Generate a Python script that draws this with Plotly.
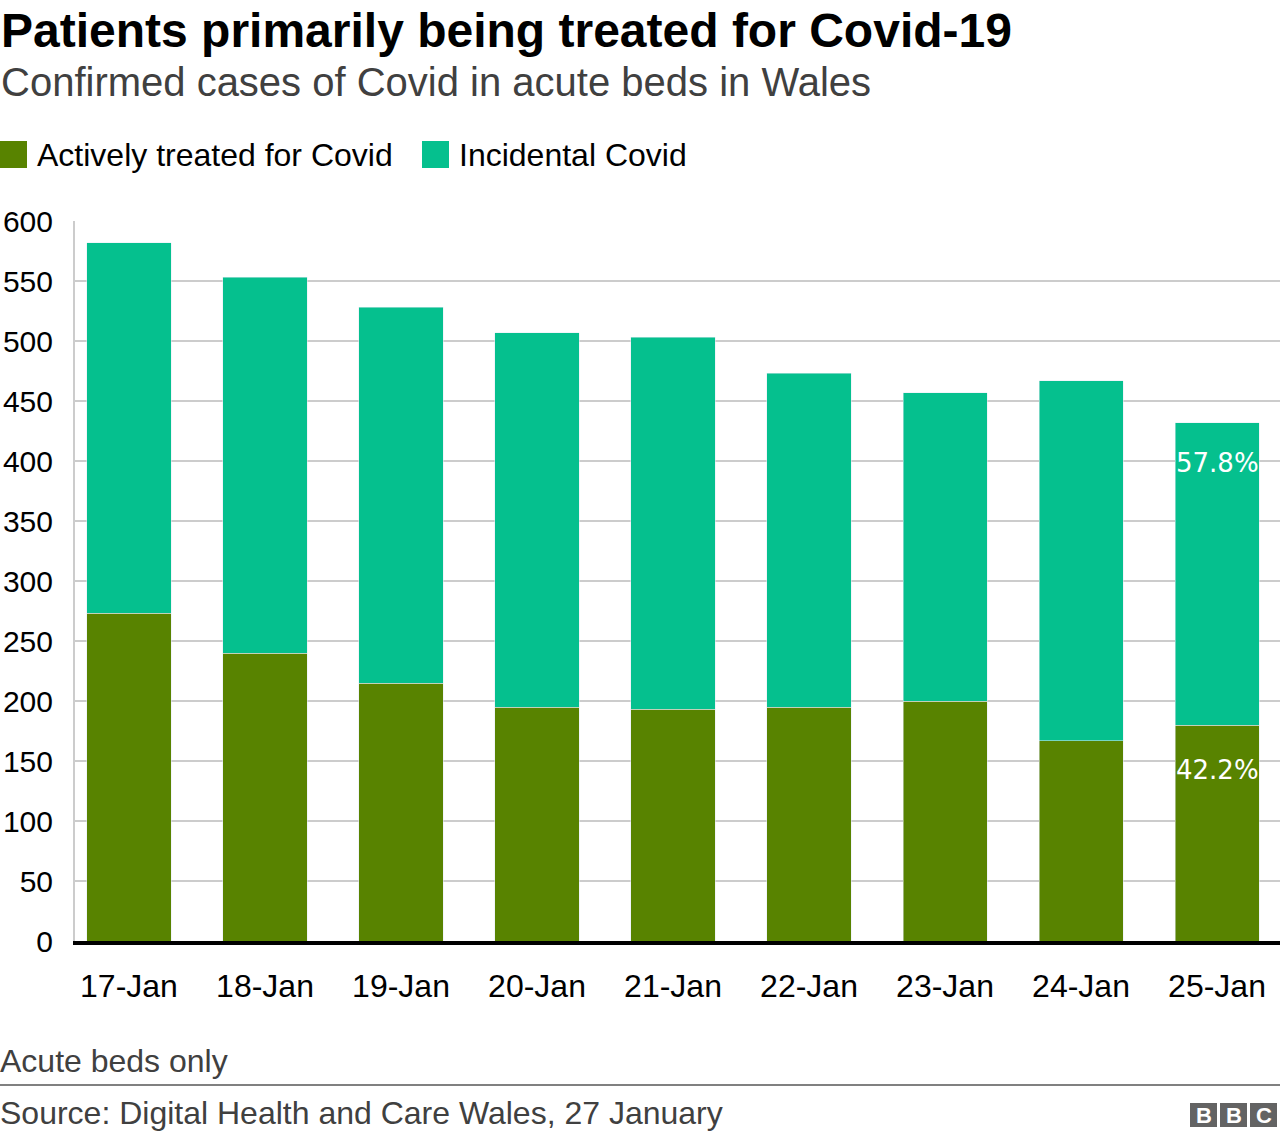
import plotly.graph_objects as go

dates = ["17-Jan", "18-Jan", "19-Jan", "20-Jan", "21-Jan", "22-Jan", "23-Jan", "24-Jan", "25-Jan"]
active = [273, 240, 215, 195, 193, 195, 200, 167, 180]
incidental = [309, 313, 313, 312, 310, 278, 257, 300, 252]
last_labels = ["42.2%", "57.8%"]
y_ticks = [0, 50, 100, 150, 200, 250, 300, 350, 400, 450, 500, 550, 600]

GREEN = "#588300"
TEAL = "#05c08e"
FONT = "Liberation Sans, Arial, sans-serif"

W, H = 1280, 1140
L, R, T, B = 75, 1280, 221, 941


def px(x):
    return (x - L) / (R - L)


def py(y):
    return (B - y) / (B - T)


fig = go.Figure()
fig.add_bar(x=dates, y=active, marker_color=GREEN, name="Actively treated for Covid",
            hoverinfo="x+y+name")
fig.add_bar(x=dates, y=incidental, marker_color=TEAL, name="Incidental Covid",
            hoverinfo="x+y+name")

totals = [a + b for a, b in zip(active, incidental)]

annotations = [
    dict(text="<b>Patients primarily being treated for Covid-19</b>", x=px(-1), y=py(30),
         xref="paper", yref="paper", xanchor="left", yanchor="middle", showarrow=False,
         font=dict(family=FONT, size=48, color="#000000")),
    dict(text="Confirmed cases of Covid in acute beds in Wales", x=px(-1), y=py(82),
         xref="paper", yref="paper", xanchor="left", yanchor="middle", showarrow=False,
         font=dict(family=FONT, size=40, color="#404040")),
    dict(text="Actively treated for Covid", x=px(35), y=py(155),
         xref="paper", yref="paper", xanchor="left", yanchor="middle", showarrow=False,
         font=dict(family=FONT, size=32, color="#000000")),
    dict(text="Incidental Covid", x=px(457), y=py(155),
         xref="paper", yref="paper", xanchor="left", yanchor="middle", showarrow=False,
         font=dict(family=FONT, size=32, color="#000000")),
    dict(text="Acute beds only", x=px(-2), y=py(1061),
         xref="paper", yref="paper", xanchor="left", yanchor="middle", showarrow=False,
         font=dict(family=FONT, size=32, color="#404040")),
    dict(text="Source: Digital Health and Care Wales, 27 January", x=px(-2), y=py(1113),
         xref="paper", yref="paper", xanchor="left", yanchor="middle", showarrow=False,
         font=dict(family=FONT, size=32, color="#404040")),
    dict(text=last_labels[1], x=len(dates) - 1, y=totals[-1], xref="x", yref="y",
         xanchor="left", yanchor="middle", xshift=-43, yshift=-40, showarrow=False,
         font=dict(family="DejaVu Sans, sans-serif", size=26, color="#ffffff")),
    dict(text=last_labels[0], x=len(dates) - 1, y=active[-1], xref="x", yref="y",
         xanchor="left", yanchor="middle", xshift=-43, yshift=-45, showarrow=False,
         font=dict(family="DejaVu Sans, sans-serif", size=26, color="#ffffff")),
]

# BBC logo blocks
for i, letter in enumerate(["B", "B", "C"]):
    x0 = 1190 + i * 30
    annotations.append(dict(text="<b>" + letter + "</b>", x=px(x0 + 13.5), y=py(1115),
                            xref="paper", yref="paper", xanchor="center", yanchor="middle",
                            showarrow=False,
                            font=dict(family=FONT, size=22, color="#ffffff")))

shapes = [
    dict(type="rect", xref="paper", yref="paper", x0=px(0), x1=px(27), y0=py(141), y1=py(168),
         fillcolor=GREEN, line=dict(width=0)),
    dict(type="rect", xref="paper", yref="paper", x0=px(422), x1=px(449), y0=py(141), y1=py(168),
         fillcolor=TEAL, line=dict(width=0)),
    dict(type="line", xref="paper", yref="paper", x0=px(0), x1=px(1280), y0=py(1085), y1=py(1085),
         line=dict(color="#808080", width=2)),
]
for i in range(3):
    x0 = 1190 + i * 30
    shapes.append(dict(type="rect", xref="paper", yref="paper", x0=px(x0), x1=px(x0 + 27),
                       y0=py(1103), y1=py(1127), fillcolor="#636363", line=dict(width=0),
                       layer="below"))

fig.update_layout(
    barmode="stack",
    bargap=0.382,
    width=W, height=H,
    margin=dict(l=L, r=W - R, t=T, b=H - B, pad=0),
    paper_bgcolor="#ffffff",
    plot_bgcolor="#ffffff",
    showlegend=False,
    annotations=annotations,
    shapes=shapes,
    font=dict(family=FONT, size=32, color="#000000"),
    xaxis=dict(
        range=[-0.397, 8.463],
        showgrid=False, automargin=False,
        showline=True, linecolor="#000000", linewidth=4, layer="above traces",
        ticks="", ticklabelstandoff=14,
        tickfont=dict(family=FONT, size=32, color="#000000"),
        fixedrange=True,
    ),
    yaxis=dict(
        range=[0, 600],
        tickvals=y_ticks,
        showgrid=True, gridcolor="#cccccc", gridwidth=2, automargin=False,
        zeroline=False,
        showline=True, linecolor="#cccccc", linewidth=2,
        ticks="", ticklabelstandoff=14,
        tickfont=dict(family=FONT, size=30, color="#000000"),
        fixedrange=True,
    ),
)

fig.write_html("out.html", config={"displayModeBar": False},
               post_script="document.body.style.margin='0';document.body.style.overflow='hidden';")
